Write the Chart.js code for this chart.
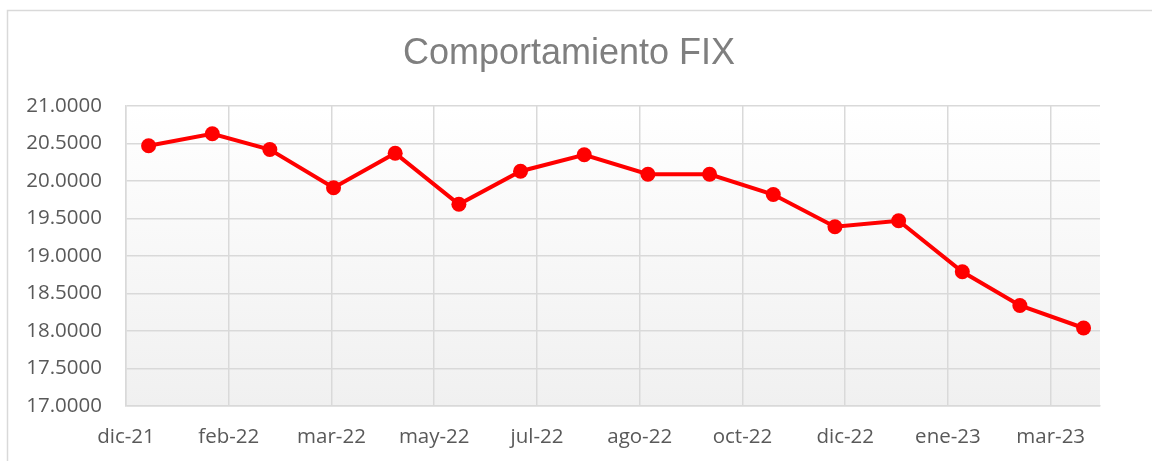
<!DOCTYPE html>
<html>
<head>
    <title>Comportamiento FIX</title>
    <script src="https://cdn.jsdelivr.net/npm/chart.js"></script>
    <style>
        body { margin: 0; background: #fff; }
        #wrap { width: 1152px; height: 461px; }
    </style>
</head>
<body>
<div id="wrap"><canvas id="fixChart" width="1152" height="461"></canvas></div>

<script>
// fechas de cierre de mes y tipo de cambio FIX
const fechas = ['2021-12-31', '2022-01-31', '2022-02-28', '2022-03-31', '2022-04-30', '2022-05-31',
                '2022-06-30', '2022-07-31', '2022-08-31', '2022-09-30', '2022-10-31', '2022-11-30',
                '2022-12-31', '2023-01-31', '2023-02-28', '2023-03-31'];
const valores = [20.47, 20.63, 20.42, 19.91, 20.37, 19.69, 20.13, 20.35,
                 20.09, 20.09, 19.82, 19.39, 19.47, 18.79, 18.34, 18.04];

// eje de fechas: inicio y separacion de etiquetas (dias), como en Excel
const ejeInicio = '2021-12-20';
const ejeFin = '2023-04-08';
const pasoDias = 50;
const etiquetasX = ['dic-21', 'feb-22', 'mar-22', 'may-22', 'jul-22', 'ago-22',
                    'oct-22', 'dic-22', 'ene-23', 'mar-23'];

const yMin = 17, yMax = 21, yPaso = 0.5;

function dia(s) {
    const p = s.split('-').map(Number);
    return Date.UTC(p[0], p[1] - 1, p[2]) / 86400000;
}

const puntos = fechas.map((f, i) => ({ x: dia(f), y: valores[i] }));
const xMin = dia(ejeInicio), xMax = dia(ejeFin);

const gridGris = '#d9d9d9';
const textoGris = '#595959';

// fondo degradado del area de trazado + marco exterior
const fondoPlugin = {
    id: 'fondo',
    beforeDraw(chart) {
        const { ctx, chartArea: a } = chart;
        ctx.save();
        const g = ctx.createLinearGradient(0, a.top, 0, a.bottom);
        g.addColorStop(0, '#ffffff');
        g.addColorStop(1, '#f0f0f0');
        ctx.fillStyle = g;
        ctx.fillRect(a.left, a.top, a.right - a.left, a.bottom - a.top);
        ctx.strokeStyle = gridGris;
        ctx.lineWidth = 1.5;
        ctx.beginPath();
        ctx.moveTo(7.5, chart.height);
        ctx.lineTo(7.5, 10.5);
        ctx.lineTo(chart.width, 10.5);
        ctx.stroke();
        ctx.restore();
    }
};

new Chart(document.getElementById('fixChart'), {
    type: 'line',
    data: {
        datasets: [{
            label: 'FIX',
            data: puntos,
            borderColor: '#ff0000',
            backgroundColor: '#ff0000',
            borderWidth: 4,
            pointRadius: 7.5,
            pointHoverRadius: 7.5,
            pointBorderWidth: 0,
            pointBackgroundColor: '#ff0000',
            tension: 0
        }]
    },
    options: {
        responsive: false,
        animation: false,
        layout: { padding: { left: 0, right: 14, top: 0, bottom: 0 } },
        plugins: {
            legend: { display: false },
            tooltip: { enabled: false },
            title: {
                display: true,
                text: 'Comportamiento FIX',
                color: '#7f7f7f',
                font: { family: '"Liberation Sans", Arial, sans-serif', size: 36, weight: 'normal', lineHeight: 1.2 },
                padding: { top: 32.4, bottom: 30.4 }
            }
        },
        scales: {
            x: {
                type: 'linear',
                min: xMin,
                max: xMax,
                afterBuildTicks(scale) {
                    scale.ticks = etiquetasX.map((_, i) => ({ value: xMin + i * pasoDias }));
                },
                afterFit(scale) { scale.height = 55; },
                ticks: {
                    color: textoGris,
                    font: { family: '"Open Sans", sans-serif', size: 20.5 },
                    padding: 19,
                    maxRotation: 0,
                    autoSkip: false,
                    callback: (v, i) => etiquetasX[i]
                },
                grid: { color: gridGris, lineWidth: 1.5, drawTicks: false },
                border: { color: gridGris, width: 1.5 }
            },
            y: {
                min: yMin,
                max: yMax,
                afterFit(scale) { scale.width = 126; },
                ticks: {
                    stepSize: yPaso,
                    color: textoGris,
                    font: { family: '"Open Sans", sans-serif', size: 20.5 },
                    padding: 24,
                    callback: v => v.toFixed(4)
                },
                grid: { color: gridGris, lineWidth: 1.5, drawTicks: false },
                border: { color: gridGris, width: 1.5 }
            },
            yDer: {
                position: 'right',
                display: true,
                afterFit(scale) { scale.width = 38; },
                ticks: { display: false },
                grid: { display: false, drawTicks: false },
                border: { display: false }
            }
        }
    },
    plugins: [fondoPlugin]
});
</script>
</body>
</html>
